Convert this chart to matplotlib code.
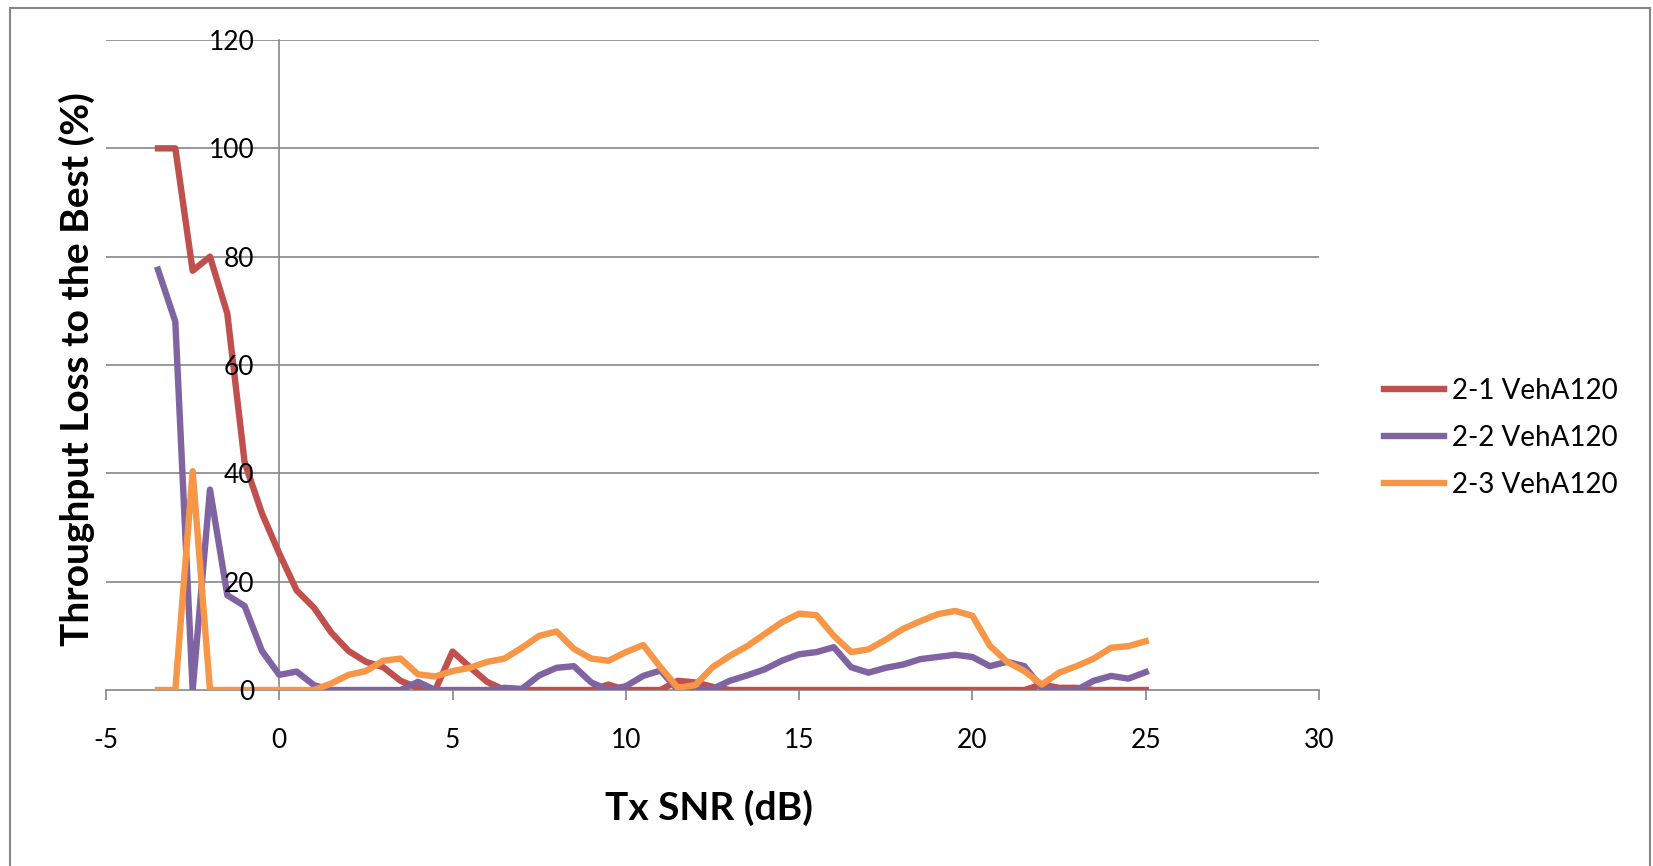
import numpy as np
import matplotlib
matplotlib.use('Agg')
from matplotlib import pyplot as plt
from matplotlib.patches import Rectangle

plt.rcParams['font.family'] = ['Lato', 'DejaVu Sans']
plt.rcParams['axes.unicode_minus'] = False

# Tx SNR points (dB), 0.5 dB steps
snr = [-3.5, -3, -2.5, -2, -1.5, -1, -0.5, 0, 0.5, 1, 1.5, 2, 2.5, 3, 3.5, 4,
       4.5, 5, 5.5, 6, 6.5, 7, 7.5, 8, 8.5, 9, 9.5, 10, 10.5, 11, 11.5, 12,
       12.5, 13, 13.5, 14, 14.5, 15, 15.5, 16, 16.5, 17, 17.5, 18, 18.5, 19,
       19.5, 20, 20.5, 21, 21.5, 22, 22.5, 23, 23.5, 24, 24.5, 25]

loss_21 = [100, 100, 77.4, 80, 69.5, 42, 32.6, 25.2, 18.4, 15.2, 10.6, 7.2,
           5.2, 4.2, 1.7, 0.4, 0, 7.1, 4.2, 1.5, 0, 0, 0, 0, 0, 0, 1.0, 0,
           0, 0, 1.7, 1.4, 0.6, 0, 0, 0, 0, 0, 0, 0, 0, 0, 0, 0, 0, 0,
           0, 0, 0, 0, 0, 1.0, 0.4, 0.4, 0, 0, 0, 0]

loss_22 = [77.6, 68, 0, 37, 17.5, 15.5, 7.2, 2.8, 3.4, 0.9, 0, 0, 0, 0, 0,
           1.5, 0, 0, 0, 0, 0.4, 0.2, 2.7, 4.1, 4.4, 1.4, 0, 0.7, 2.6, 3.6,
           0, 0, 0.2, 1.7, 2.7, 3.8, 5.4, 6.6, 7.0, 7.9, 4.2, 3.2, 4.1, 4.7,
           5.7, 6.1, 6.5, 6.1, 4.4, 5.2, 4.4, 0.4, 0, 0, 1.7, 2.6, 2.1, 3.3]

loss_23 = [0, 0, 40.4, 0, 0, 0, 0, 0, 0, 0, 1.2, 2.8, 3.5, 5.4, 5.8, 2.9,
           2.5, 3.5, 4.1, 5.2, 5.8, 7.8, 10.0, 10.8, 7.6, 5.8, 5.4, 7.0, 8.3,
           4.2, 0.4, 0.9, 4.2, 6.3, 8.1, 10.3, 12.5, 14.1, 13.8, 10.0, 7.0,
           7.5, 9.3, 11.3, 12.7, 14.0, 14.6, 13.7, 8.2, 5.2, 3.5, 1.0, 3.2,
           4.4, 5.8, 7.8, 8.1, 9.0]

series = [('2-1 VehA120', loss_21, '#C0504D'),
          ('2-2 VehA120', loss_22, '#8064A2'),
          ('2-3 VehA120', loss_23, '#F79646')]

fig = plt.figure(figsize=(16.53, 8.66), dpi=100)
ax = fig.add_axes([106 / 1653, 1 - 690 / 866, (1319 - 106) / 1653, (690 - 40) / 866])

grey = '#868686'
for name, vals, col in series:
    ax.plot(snr, vals, color=col, lw=4.6, label=name, zorder=2)

ax.set_xlim(-5, 30)
ax.set_ylim(0, 120)
ax.set_xticks(np.arange(-5, 31, 5))
ax.set_yticks(np.arange(0, 121, 20))

# gridlines under the lines, tick labels above them
for yv in ax.get_yticks()[1:]:
    ax.axhline(yv, color=grey, lw=1.2, zorder=1)
ax.set_axisbelow(False)

for s in ['top', 'right']:
    ax.spines[s].set_visible(False)
ax.spines['left'].set_position(('data', 0))
ax.spines['left'].set_color(grey)
ax.spines['left'].set_linewidth(1.2)
ax.spines['left'].set_zorder(1)
ax.spines['bottom'].set_color(grey)
ax.spines['bottom'].set_linewidth(1.2)
ax.spines['bottom'].set_zorder(1)

ax.tick_params(axis='x', direction='out', length=7, width=1.2, color=grey,
               labelsize=19, pad=20)
ax.tick_params(axis='y', length=0, labelsize=19, pad=18)

ax.set_xlabel('Tx SNR (dB)', fontsize=28, fontweight='bold', va='center')
ax.set_ylabel('Throughput Loss to the Best (%)', fontsize=28, fontweight='bold',
              va='center')
ax.yaxis.set_label_coords((77 - 106) / (1319 - 106), (690 - 369) / 650)
ax.xaxis.set_label_coords((709 - 106) / (1319 - 106), -(808 - 690) / 650)

leg = ax.legend(loc='center left', bbox_to_anchor=(1359 / 1653, 1 - 438 / 866),
                bbox_transform=fig.transFigure, frameon=False, fontsize=20,
                handlelength=2.15, labelspacing=0.75, handletextpad=0.3)

fig.patches.append(Rectangle((10 / 1653, -0.01), 1640 / 1653, 1 - 8 / 866 + 0.01,
                             transform=fig.transFigure, fill=False,
                             edgecolor=grey, lw=1.5))

fig.savefig('out.png', dpi=100)
